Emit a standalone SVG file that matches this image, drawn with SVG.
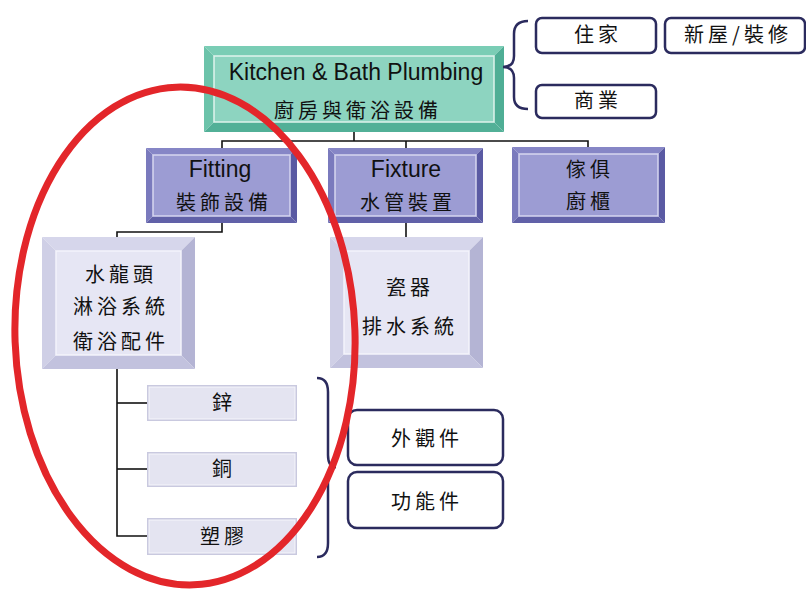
<svg xmlns="http://www.w3.org/2000/svg" width="806" height="590" viewBox="0 0 806 590">
<style>
.lat{font-family:"Liberation Sans",Arial,sans-serif;fill:#111;text-anchor:middle}
.cjk{font-family:"Noto Sans CJK TC","Noto Sans CJK SC",sans-serif;fill:#111;text-anchor:middle;font-size:20px;letter-spacing:4px}
.tf{fill:#8dd4c0}.tt{fill:#7acdb5}.tl{fill:#6cc3aa}.tr{fill:#4fae95}.tb{fill:#52b097}
.pf{fill:#9c9cd3}.pt{fill:#8686c6}.pl{fill:#7a7abd}.pr{fill:#5a5aa3}.pb{fill:#6161a8}
.lf{fill:#e6e6f4}.lt{fill:#d6d6eb}.ll{fill:#cfcfe6}.lr{fill:#b4b4d4}.lb{fill:#c2c2de}
.inl{fill:none;stroke:#f4f4fb;stroke-width:1.5}
.rb{fill:#fff;stroke:#2b2b5e;stroke-width:2.5}
.con{fill:none;stroke:#111;stroke-width:1.6}
.br{fill:none;stroke:#2b2b5e;stroke-width:2.5}
</style>
<rect width="806" height="590" fill="#fff"/>

<g id="connectors">
<polyline class="con" points="354,132 354,141"/>
<polyline class="con" points="222,148 222,141 588,141 588,147"/>
<polyline class="con" points="406,141 406,148"/>
<polyline class="con" points="222,223 222,232 117,232 117,237"/>
<polyline class="con" points="406,223 406,237"/>
<polyline class="con" points="117,369 117,536 147,536"/>
<polyline class="con" points="117,403 147,403"/>
<polyline class="con" points="117,469 147,469"/>
</g>

<g id="kitchen">
<polygon class="tt" points="204,46 504,46 494,56 214,56"/>
<polygon class="tl" points="204,46 214,56 214,122 204,132"/>
<polygon class="tr" points="504,46 504,132 494,122 494,56"/>
<polygon class="tb" points="204,132 214,122 494,122 504,132"/>
<rect class="tf" x="214" y="56" width="280" height="66"/>
<rect x="214" y="56" width="280" height="66" fill="none" stroke="#dff3ed" stroke-width="1.5"/>
<text class="lat" x="356" y="80" font-size="23">Kitchen &amp; Bath Plumbing</text>
<text class="cjk" x="358" y="118">廚房與衛浴設備</text>
</g>

<g id="brace-top">
<path class="br" d="M528,21 Q514,21 514,34 L514,56 Q514,67 503,67 Q514,67 514,78 L514,97 Q514,109 528,109"/>
</g>

<g id="zhujia">
<rect class="rb" x="536" y="18" width="120" height="35" rx="6"/>
<text class="cjk" x="598" y="42">住家</text>
</g>
<g id="xinwu">
<rect class="rb" x="665" y="18" width="140" height="35" rx="6"/>
<text class="cjk" x="738" y="42">新屋/裝修</text>
</g>
<g id="shangye">
<rect class="rb" x="536" y="85" width="120" height="33" rx="6"/>
<text class="cjk" x="598" y="108">商業</text>
</g>

<g id="fitting">
<polygon class="pt" points="146,148 297,148 290,155 153,155"/>
<polygon class="pl" points="146,148 153,155 153,216 146,223"/>
<polygon class="pr" points="297,148 297,223 290,216 290,155"/>
<polygon class="pb" points="146,223 153,216 290,216 297,223"/>
<rect class="pf" x="153" y="155" width="137" height="61"/>
<rect x="153" y="155" width="137" height="61" fill="none" stroke="#d6d6f0" stroke-width="1.5"/>
<text class="lat" x="220" y="177" font-size="23">Fitting</text>
<text class="cjk" x="224" y="210">裝飾設備</text>
</g>

<g id="fixture">
<polygon class="pt" points="328,148 483,148 476,155 335,155"/>
<polygon class="pl" points="328,148 335,155 335,216 328,223"/>
<polygon class="pr" points="483,148 483,223 476,216 476,155"/>
<polygon class="pb" points="328,223 335,216 476,216 483,223"/>
<rect class="pf" x="335" y="155" width="141" height="61"/>
<rect x="335" y="155" width="141" height="61" fill="none" stroke="#d6d6f0" stroke-width="1.5"/>
<text class="lat" x="406" y="177" font-size="23">Fixture</text>
<text class="cjk" x="408" y="210">水管裝置</text>
</g>

<g id="furniture">
<polygon class="pt" points="512,147 665,147 658,154 519,154"/>
<polygon class="pl" points="512,147 519,154 519,216 512,223"/>
<polygon class="pr" points="665,147 665,223 658,216 658,154"/>
<polygon class="pb" points="512,223 519,216 658,216 665,223"/>
<rect class="pf" x="519" y="154" width="139" height="62"/>
<rect x="519" y="154" width="139" height="62" fill="none" stroke="#d6d6f0" stroke-width="1.5"/>
<text class="cjk" x="590" y="177">傢俱</text>
<text class="cjk" x="590" y="209">廚櫃</text>
</g>

<g id="faucet">
<polygon class="lt" points="42,237 195,237 181,251 56,251"/>
<polygon class="ll" points="42,237 56,251 56,355 42,369"/>
<polygon class="lr" points="195,237 195,369 181,355 181,251"/>
<polygon class="lb" points="42,369 56,355 181,355 195,369"/>
<rect class="lf" x="56" y="251" width="125" height="104"/>
<rect class="inl" x="56" y="251" width="125" height="104"/>
<text class="cjk" x="121" y="282">水龍頭</text>
<text class="cjk" x="121" y="314">淋浴系統</text>
<text class="cjk" x="121" y="349">衛浴配件</text>
</g>

<g id="ceramic">
<polygon class="lt" points="330,237 483,237 469,251 344,251"/>
<polygon class="ll" points="330,237 344,251 344,354 330,368"/>
<polygon class="lr" points="483,237 483,368 469,354 469,251"/>
<polygon class="lb" points="330,368 344,354 469,354 483,368"/>
<rect class="lf" x="344" y="251" width="125" height="103"/>
<rect class="inl" x="344" y="251" width="125" height="103"/>
<text class="cjk" x="410" y="295">瓷器</text>
<text class="cjk" x="410" y="334">排水系統</text>
</g>

<g id="zinc">
<rect x="147" y="385" width="150" height="36" fill="#c9c9df"/>
<rect x="149" y="387" width="146" height="32" fill="#e4e4f1" stroke="#f6f6fb" stroke-width="1"/>
<text class="cjk" x="224" y="410">鋅</text>
</g>
<g id="copper">
<rect x="147" y="452" width="150" height="35" fill="#c9c9df"/>
<rect x="149" y="454" width="146" height="31" fill="#e4e4f1" stroke="#f6f6fb" stroke-width="1"/>
<text class="cjk" x="224" y="476">銅</text>
</g>
<g id="plastic">
<rect x="147" y="518" width="150" height="37" fill="#c9c9df"/>
<rect x="149" y="520" width="146" height="33" fill="#e4e4f1" stroke="#f6f6fb" stroke-width="1"/>
<text class="cjk" x="224" y="544">塑膠</text>
</g>

<g id="brace-bottom">
<path class="br" d="M317,378 Q328,378 328,392 L328,455 Q328,467 336,467 Q328,467 328,479 L328,543 Q328,557 317,557"/>
</g>

<g id="appearance">
<rect class="rb" x="348" y="410" width="155" height="55" rx="9"/>
<text class="cjk" x="427" y="446">外觀件</text>
</g>
<g id="function">
<rect class="rb" x="348" y="472" width="155" height="56" rx="9"/>
<text class="cjk" x="427" y="509">功能件</text>
</g>

<g id="highlight">
<ellipse cx="185" cy="336" rx="170" ry="249" transform="rotate(-2 185 336)" fill="none" stroke="#e3262a" stroke-width="7"/>
</g>
</svg>
